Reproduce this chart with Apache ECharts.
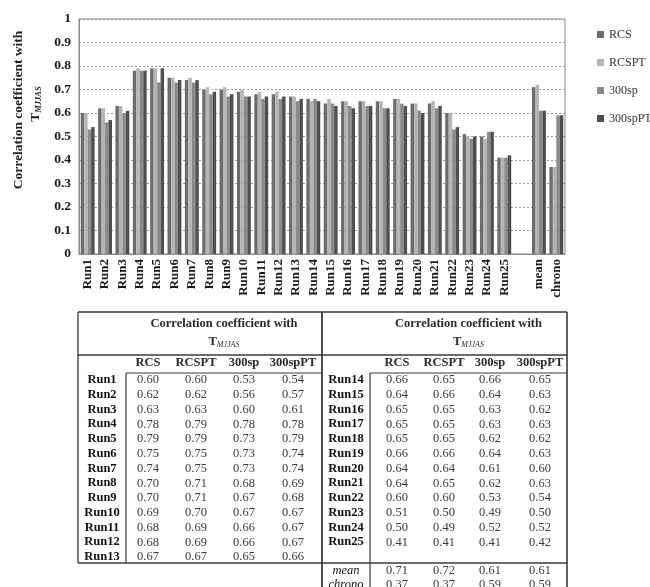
<!DOCTYPE html>
<html>
<head>
<meta charset="utf-8">
<script src="https://cdn.jsdelivr.net/npm/echarts@6/dist/echarts.min.js"></script>
<style>html,body{margin:0;padding:0;background:#fff;}#c{width:650px;height:587px;}</style>
</head>
<body>
<div id="c"></div>
<script>
// ---- data ----
const runLabels = ['Run1','Run2','Run3','Run4','Run5','Run6','Run7','Run8','Run9','Run10','Run11','Run12','Run13',
  'Run14','Run15','Run16','Run17','Run18','Run19','Run20','Run21','Run22','Run23','Run24','Run25'];
const summaryLabels = ['mean','chrono'];
const seriesNames = ['RCS','RCSPT','300sp','300spPT'];
// 25 runs followed by mean, chrono
const rcs     = [0.60,0.62,0.63,0.78,0.79,0.75,0.74,0.70,0.70,0.69,0.68,0.68,0.67,0.66,0.64,0.65,0.65,0.65,0.66,0.64,0.64,0.60,0.51,0.50,0.41, 0.71,0.37];
const rcspt   = [0.60,0.62,0.63,0.79,0.79,0.75,0.75,0.71,0.71,0.70,0.69,0.69,0.67,0.65,0.66,0.65,0.65,0.65,0.66,0.64,0.65,0.60,0.50,0.49,0.41, 0.72,0.37];
const sp300   = [0.53,0.56,0.60,0.78,0.73,0.73,0.73,0.68,0.67,0.67,0.66,0.66,0.65,0.66,0.64,0.63,0.63,0.62,0.64,0.61,0.62,0.53,0.49,0.52,0.41, 0.61,0.59];
const sp300pt = [0.54,0.57,0.61,0.78,0.79,0.74,0.74,0.69,0.68,0.67,0.67,0.67,0.66,0.65,0.63,0.62,0.63,0.62,0.63,0.60,0.63,0.54,0.50,0.52,0.42, 0.61,0.59];
const headerText = 'Correlation coefficient with';
const headerSub = 'MJJAS';

// ---- styling ----
const FONT = 'Liberation Serif';
const colors = ['#6c6c6c','#b5b5b5','#8b8b8b','#4f4f4f'];
const allSeries = [rcs, rcspt, sp300, sp300pt];
const nRuns = runLabels.length;
const categories = runLabels.concat([''], summaryLabels);
function chartData(arr){ return arr.slice(0,nRuns).concat([null], arr.slice(nRuns)); }

// ---- table graphics ----
const g = [];
const LINE = '#3a3a3a';
function hline(x1,x2,y,w){ g.push({type:'line', shape:{x1:x1,y1:y,x2:x2,y2:y}, style:{stroke:LINE, lineWidth:w||1.3}}); }
function vline(x,y1,y2,w){ g.push({type:'line', shape:{x1:x,y1:y1,x2:x,y2:y2}, style:{stroke:LINE, lineWidth:w||1.3}}); }
function txt(x,y,t,opt){
  opt = opt||{};
  g.push({type:'text', x:x, y:y, style:{text:t, fill:opt.fill||'#2a2a2a', font:(opt.italic?'italic ':'')+(opt.bold?'bold ':'')+(opt.size||12.5)+'px "'+FONT+'"', align:opt.align||'center', verticalAlign:'middle'}});
}
function subHeader(x,y){
  g.push({type:'text', x:x, y:y, style:{text:'{t|T}{s|'+headerSub+'}', align:'center', verticalAlign:'middle',
    rich:{t:{fontFamily:FONT, fontSize:12.5, fill:'#2a2a2a', fontWeight:'bold'},
          s:{fontFamily:FONT, fontSize:8, fontStyle:'italic', fill:'#2a2a2a', verticalAlign:'bottom', padding:[5,0,0,0]}}}});
}
const T = {left:78, mid:322, right:567, top:312, hdr:355, box:373, lb:126, rb:370, bottomL:563};
const rowY0 = 380, rowStep = 14.75;
const leftCols = [148,196,244,293], rightCols = [397,444,490,540];
// borders
hline(T.left, T.right, T.top, 1.3);
hline(T.left, T.right, T.hdr, 1.6);
vline(T.left, T.top, T.bottomL, 1.3);
vline(T.mid, T.top, 600, 1.8);
vline(T.right, T.top, 600, 1.6);
hline(T.lb, T.mid, T.box, 1);
hline(T.rb, T.right, T.box, 1);
vline(T.lb, T.box, T.bottomL, 1.2);
vline(T.rb, T.box, 600, 1.2);
hline(T.left, T.right, T.bottomL, 1.6);
// headers
txt((T.lb+T.mid)/2, 324, headerText, {bold:true, size:12.5});
subHeader((T.lb+T.mid)/2, 342);
txt((T.rb+T.right)/2, 324, headerText, {bold:true, size:12.5});
subHeader((T.rb+T.right)/2, 342);
seriesNames.forEach(function(n,i){
  txt(leftCols[i], 363, n, {bold:true});
  txt(rightCols[i], 363, n, {bold:true});
});
// rows
const half = 13;
for (let r=0; r<nRuns; r++){
  const left = r < half;
  const y = rowY0 + (left ? r : r-half) * rowStep;
  const cols = left ? leftCols : rightCols;
  txt(left ? (T.left+T.lb)/2 : (T.mid+T.rb)/2, y, runLabels[r], {bold:true, fill:'#111'});
  allSeries.forEach(function(arr,i){ txt(cols[i], y, arr[r].toFixed(2), {fill:'#3a3a3a'}); });
}
summaryLabels.forEach(function(lab,k){
  const y = 571 + k*14;
  txt((T.mid+T.rb)/2, y, lab, {italic:true, fill:'#111'});
  allSeries.forEach(function(arr,i){ txt(rightCols[i], y, arr[nRuns+k].toFixed(2), {fill:'#3a3a3a'}); });
});
// y-axis title (rotated)
g.push({type:'text', x:19, y:110, rotation:Math.PI/2, style:{text:headerText, font:'bold 13.5px "'+FONT+'"', fill:'#222', align:'center', verticalAlign:'middle'}});
g.push({type:'text', x:36, y:104, rotation:Math.PI/2, style:{text:'{t|T}{s|'+headerSub+'}', align:'center', verticalAlign:'middle',
  rich:{t:{fontFamily:FONT, fontSize:13.5, fontWeight:'bold', fill:'#222'}, s:{fontFamily:FONT, fontSize:8.5, fontStyle:'italic', fontWeight:'bold', fill:'#222', verticalAlign:'bottom', padding:[5,0,0,0]}}}});

const chart = echarts.init(document.getElementById('c'), null, {renderer:'canvas'});
chart.setOption({
  animation:false,
  backgroundColor:'#fff',
  color: colors,
  legend:{
    orient:'vertical', left:592, top:22, itemWidth:7, itemHeight:7, itemGap:13, icon:'rect',
    textStyle:{fontFamily:FONT, fontSize:12, color:'#333', lineHeight:15},
    data: seriesNames
  },
  grid:{left:79, top:19, width:486, height:235, show:true, borderColor:'#8a8a8a', borderWidth:1, containLabel:false},
  xAxis:{
    type:'category', data:categories,
    axisLine:{lineStyle:{color:'#8a8a8a'}}, axisTick:{show:false},
    axisLabel:{interval:0, rotate:90, fontFamily:FONT, fontWeight:'bold', fontSize:13, color:'#1a1a1a', margin:5}
  },
  yAxis:{
    type:'value', min:0, max:1, interval:0.1,
    axisLine:{show:true, lineStyle:{color:'#8a8a8a'}}, axisTick:{show:false},
    axisLabel:{fontFamily:FONT, fontWeight:'bold', fontSize:13.5, color:'#1a1a1a', margin:8,
      formatter:function(v){ return String(parseFloat(v.toFixed(1))); }},
    splitLine:{show:true, lineStyle:{color:'#9a9a9a', type:[2,2], width:1}}
  },
  series: seriesNames.map(function(n,i){
    return {name:n, type:'bar', data:chartData(allSeries[i]), barGap:'0%', barCategoryGap:'20%',
      itemStyle:{color:colors[i]}};
  }),
  graphic: g
});
</script>
</body>
</html>
